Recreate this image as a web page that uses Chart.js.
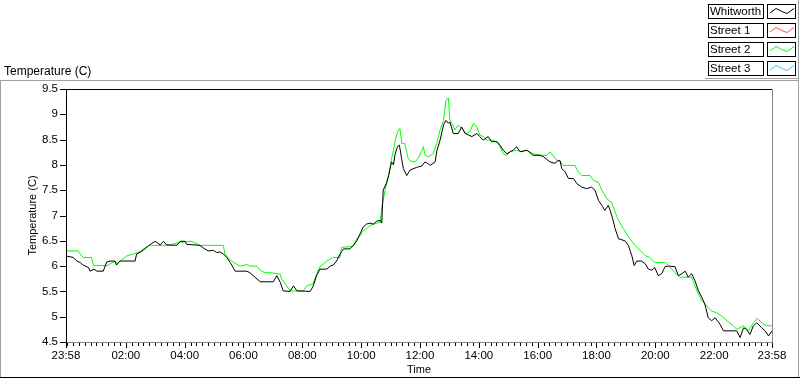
<!DOCTYPE html>
<html><head><meta charset="utf-8">
<script src="https://cdn.jsdelivr.net/npm/chart.js@4.4.1/dist/chart.umd.min.js"></script>
<style>html,body{margin:0;padding:0;background:#fff;}canvas{display:block;}</style>
</head><body>
<canvas id="c" width="800" height="380"></canvas>
<script>
// ---------- data (minutes since 23:58 start, temperature in C) ----------
const seriesNames = ["Whitworth", "Street 1", "Street 2", "Street 3"];
const seriesColors = ["#000000", "#ff4a4a", "#00ff00", "#33c8ff"];

const whitworthMinutes = [0,15,22,29,35,46,49,57,63,76,83,90,100,103,110,141,144,151,161,168,175,182,192,199,205,226,233,243,246,273,280,290,301,307,314,321,328,335,341,345,369,375,382,396,423,430,437,443,457,464,471,498,504,511,518,532,539,545,552,559,566,579,586,593,600,606,613,620,627,634,641,644,647,654,658,664,668,671,676,680,685,688,695,702,715,726,732,739,743,753,756,763,770,775,780,783,790,800,807,814,821,828,838,844,851,861,868,879,885,892,899,906,912,919,926,940,953,967,974,987,997,1004,1008,1011,1018,1025,1035,1042,1052,1062,1072,1079,1086,1093,1099,1106,1110,1116,1120,1127,1140,1147,1154,1159,1164,1174,1181,1188,1195,1201,1208,1215,1222,1229,1242,1249,1256,1263,1269,1276,1283,1290,1297,1303,1310,1317,1324,1334,1341,1368,1375,1382,1388,1395,1402,1409,1419,1426,1433,1440];
const whitworthTemps = [6.2,6.17,6.1,6.07,6.02,5.97,5.9,5.94,5.9,5.9,6.08,6.1,6.1,6.02,6.1,6.1,6.24,6.27,6.34,6.4,6.45,6.49,6.42,6.49,6.42,6.41,6.49,6.49,6.43,6.41,6.36,6.3,6.31,6.27,6.28,6.24,6.17,6.07,5.97,5.9,5.9,5.87,5.81,5.69,5.69,5.81,5.68,5.51,5.5,5.61,5.51,5.5,5.6,5.81,5.94,5.94,6.0,6.02,6.1,6.24,6.34,6.34,6.41,6.5,6.64,6.77,6.83,6.85,6.83,6.89,6.9,6.85,7.5,7.65,7.79,8.06,8.0,8.2,8.36,8.39,8.1,7.93,7.79,7.9,7.95,7.98,8.06,8.02,7.99,8.06,8.26,8.49,8.79,8.88,8.82,8.85,8.62,8.62,8.75,8.62,8.59,8.56,8.62,8.56,8.49,8.56,8.46,8.46,8.39,8.29,8.22,8.26,8.29,8.36,8.26,8.29,8.19,8.19,8.16,8.06,8.03,8.09,8.08,7.93,7.86,7.73,7.73,7.63,7.56,7.53,7.56,7.5,7.3,7.2,7.1,7.2,7.1,6.9,6.74,6.54,6.5,6.41,6.21,6.01,6.1,6.1,6.05,5.94,5.92,5.97,5.81,5.85,5.99,6.0,5.99,5.81,5.85,5.9,5.78,5.85,5.71,5.51,5.38,5.25,4.98,4.92,4.98,4.85,4.72,4.72,4.59,4.78,4.75,4.65,4.82,4.88,4.78,4.72,4.62,4.72];

const street1Minutes = [];
const street1Temps = [];

const street2Minutes = [0,25,29,35,52,56,84,100,104,110,124,137,151,161,171,212,219,233,253,260,273,321,324,335,341,355,369,375,389,396,406,416,437,440,450,457,484,491,504,511,518,532,545,559,562,586,593,600,606,613,620,627,641,644,647,651,658,664,668,673,678,681,685,691,695,698,705,712,719,726,729,732,739,749,756,763,770,775,780,783,789,793,800,807,817,824,831,838,844,851,858,872,882,892,899,906,919,930,940,953,967,981,987,1001,1008,1014,1038,1045,1052,1069,1076,1086,1093,1103,1113,1120,1127,1137,1150,1161,1171,1181,1191,1201,1222,1229,1242,1252,1276,1287,1297,1307,1317,1327,1338,1348,1361,1368,1382,1392,1402,1410,1419,1429,1440];
const street2Temps = [6.3,6.3,6.24,6.17,6.17,6.01,6.01,6.1,6.05,6.1,6.2,6.24,6.29,6.36,6.41,6.41,6.44,6.47,6.49,6.47,6.41,6.41,6.24,6.12,6.08,6.0,6.03,6.0,6.0,5.92,5.87,5.87,5.84,5.74,5.61,5.51,5.51,5.61,5.65,5.84,5.99,6.1,6.17,6.17,6.37,6.39,6.54,6.6,6.7,6.74,6.8,6.83,6.87,7.17,7.3,7.5,7.79,8.12,8.3,8.55,8.69,8.72,8.42,8.42,8.25,8.12,8.07,8.06,8.14,8.29,8.36,8.2,8.16,8.22,8.42,8.69,8.88,9.28,9.32,8.88,8.79,8.69,8.79,8.72,8.62,8.66,8.82,8.75,8.59,8.56,8.49,8.49,8.42,8.22,8.19,8.26,8.29,8.26,8.29,8.22,8.19,8.19,8.26,8.09,8.06,7.99,7.99,7.86,7.79,7.79,7.69,7.66,7.5,7.33,7.26,7.07,6.9,6.74,6.54,6.41,6.31,6.21,6.17,6.07,6.07,6.01,5.87,5.78,5.78,5.51,5.31,5.21,5.11,5.08,5.01,4.92,4.82,4.75,4.82,4.72,4.88,4.97,4.88,4.82,4.82];

const street3Minutes = [];
const street3Temps = [];

const xTickMinutes = [0,122,242,362,482,602,722,842,962,1082,1202,1322,1440];
const xTickLabels = ["23:58","02:00","04:00","06:00","08:00","10:00","12:00","14:00","16:00","18:00","20:00","22:00","23:58"];
const yTickValues = [4.5,5,5.5,6,6.5,7,7.5,8,8.5,9,9.5];
const yTickLabels = ["4.5","5","5.5","6","6.5","7","7.5","8","8.5","9","9.5"];

const chartTitle = "Temperature (C)";
const xAxisTitle = "Time";
const yAxisTitle = "Temperature (C)";

// ---------- helpers ----------
const toPts = (mins, temps) => mins.map((m, i) => ({x: m, y: temps[i]}));
const allMinutes = [whitworthMinutes, street1Minutes, street2Minutes, street3Minutes];
const allTemps = [whitworthTemps, street1Temps, street2Temps, street3Temps];

const FONT = "'Liberation Sans', Arial, sans-serif";

const framePlugin = {
  id: 'frame',
  afterDraw(chart) {
    const ctx = chart.ctx;
    const a = chart.chartArea;
    const xs = chart.scales.x, ys = chart.scales.y;
    ctx.save();
    ctx.lineWidth = 1;
    // outer panel
    ctx.strokeStyle = '#a0a0a0';
    ctx.beginPath();
    ctx.moveTo(0, 80.5); ctx.lineTo(799, 80.5);
    ctx.moveTo(0.5, 80); ctx.lineTo(0.5, 378);
    ctx.moveTo(798.5, 0); ctx.lineTo(798.5, 378);
    ctx.stroke();
    ctx.strokeStyle = '#000';
    ctx.beginPath();
    ctx.moveTo(0, 377.5); ctx.lineTo(800, 377.5);
    ctx.stroke();
    // legend frame shadow
    ctx.strokeStyle = '#a0a0a0';
    ctx.beginPath();
    ctx.moveTo(705, 78.5); ctx.lineTo(799, 78.5);
    ctx.stroke();

    // plot frame
    const L = Math.round(a.left), R = Math.round(a.right), T = Math.round(a.top), B = Math.round(a.bottom);
    ctx.strokeStyle = '#000';
    ctx.beginPath();
    ctx.moveTo(L, T + 0.5); ctx.lineTo(R, T + 0.5);
    ctx.moveTo(L + 0.5, T); ctx.lineTo(L + 0.5, B + 1);
    ctx.stroke();
    ctx.strokeStyle = '#888';
    ctx.beginPath();
    ctx.moveTo(R + 0.5, T); ctx.lineTo(R + 0.5, B + 1);
    ctx.moveTo(L + 1, B + 0.5); ctx.lineTo(R + 1, B + 0.5);
    ctx.stroke();

    // y ticks
    ctx.strokeStyle = '#000';
    ctx.beginPath();
    yTickValues.forEach(v => {
      const py = Math.round(ys.getPixelForValue(v)) + 0.5;
      ctx.moveTo(L - 6, py); ctx.lineTo(L, py);
    });
    ctx.stroke();
    // x minor ticks (every 12 min)
    ctx.beginPath();
    for (let m = 2; m <= 1440; m += 12) {
      const px = Math.round(xs.getPixelForValue(m)) + 0.5;
      ctx.moveTo(px, B + 1); ctx.lineTo(px, B + 4);
    }
    ctx.stroke();
    // x major ticks
    ctx.beginPath();
    xTickMinutes.forEach(m => {
      const px = Math.round(xs.getPixelForValue(m)) + 0.5;
      ctx.moveTo(px, B + 1); ctx.lineTo(px, B + 6);
    });
    ctx.stroke();

    // chart title top-left
    ctx.fillStyle = '#000';
    ctx.font = '12px ' + FONT;
    ctx.textBaseline = 'middle';
    ctx.textAlign = 'left';
    ctx.fillText(chartTitle, 4, 72);

    // legend
    for (let i = 0; i < seriesNames.length; i++) {
      const y0 = 4 + i * 19;
      ctx.strokeStyle = '#000';
      ctx.strokeRect(708.5, y0 + 0.5, 55, 14);
      ctx.strokeRect(767.5, y0 + 0.5, 28, 14);
      ctx.fillStyle = '#000';
      ctx.font = '11.5px ' + FONT;
      ctx.textBaseline = 'middle';
      ctx.fillText(seriesNames[i], 710, y0 + 8);
      ctx.strokeStyle = seriesColors[i];
      ctx.beginPath();
      ctx.moveTo(770, y0 + 9);
      ctx.lineTo(776, y0 + 4.5);
      ctx.lineTo(783, y0 + 8);
      ctx.lineTo(787, y0 + 9.5);
      ctx.lineTo(794, y0 + 4.5);
      ctx.stroke();
    }
    ctx.restore();
  }
};

const datasets = seriesNames.map((name, i) => ({
  label: name,
  data: toPts(allMinutes[i], allTemps[i]),
  borderColor: seriesColors[i],
  backgroundColor: seriesColors[i],
  borderWidth: 1,
  pointRadius: 0,
  tension: 0,
  fill: false
}));

new Chart(document.getElementById('c'), {
  type: 'line',
  data: { datasets },
  options: {
    responsive: false,
    animation: false,
    devicePixelRatio: 1,
    parsing: false,
    layout: { padding: { left: 0, right: 28, top: 89, bottom: 0 } },
    plugins: { legend: { display: false }, tooltip: { enabled: false } },
    scales: {
      x: {
        type: 'linear', min: 0, max: 1440,
        afterBuildTicks: s => { s.ticks = xTickMinutes.map(v => ({ value: v })); },
        afterFit: s => { s.height = 38; },
        grid: { display: false, drawTicks: true, tickLength: 5 },
        border: { display: false },
        ticks: { autoSkip: false, maxRotation: 0, minRotation: 0, padding: 2, color: '#000',
                 font: { family: FONT, size: 11.5 },
                 callback: (v, i) => xTickLabels[i] },
        title: { display: true, text: xAxisTitle, color: '#000', font: { family: FONT, size: 11 },
                 padding: { top: 0, bottom: 3 } }
      },
      y: {
        type: 'linear', min: 4.5, max: 9.5,
        afterBuildTicks: s => { s.ticks = yTickValues.map(v => ({ value: v })); },
        afterFit: s => { s.width = 66; },
        grid: { display: false, drawTicks: true, tickLength: 6 },
        border: { display: false },
        ticks: { padding: 2, color: '#000', font: { family: FONT, size: 11.5 },
                 callback: (v, i) => yTickLabels[i] },
        title: { display: true, text: yAxisTitle, color: '#000', font: { family: FONT, size: 11 },
                 padding: { top: 26, bottom: 0 } }
      }
    }
  },
  plugins: [framePlugin]
});
</script>
</body></html>
